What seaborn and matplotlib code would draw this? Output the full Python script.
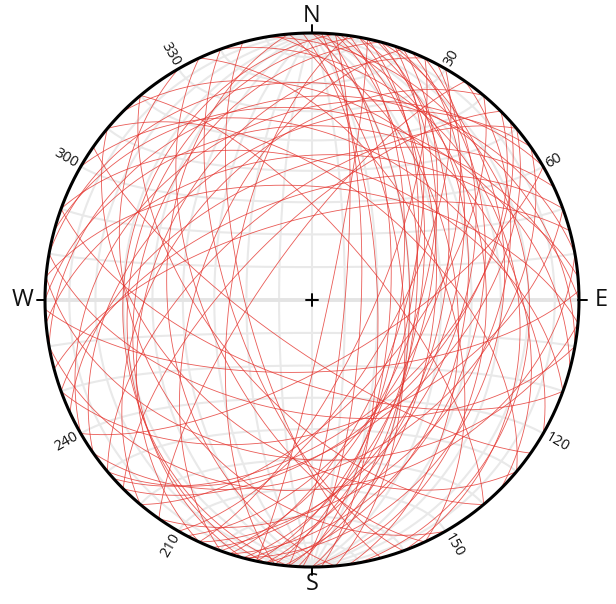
import numpy as np
import pandas as pd
import matplotlib
matplotlib.use("Agg")
import matplotlib.pyplot as plt
import seaborn as sns

# ---- data: planes as (strike RHR, dip) ----
strikes = [355, 0, 5, 8, 10, 12, 15, 18, 20, 3, 358, 2, 6, 14, 22, 25, 10, 352, 18, 28, 30, 25, 0, 15, 5, 12,
           185, 190, 195, 175, 200, 188, 205,
           45, 48, 50, 40, 55, 60, 35,
           300, 310, 320, 130, 140, 125, 315, 150, 155, 160,
           88, 270, 265, 275, 260, 95, 100, 80, 280, 255,
           340, 335, 165, 230, 220, 215, 70, 110, 350,
           235, 245, 240, 250, 285, 290, 225]
dips = [62, 60, 58, 63, 57, 60, 55, 62, 58, 66, 70, 75, 52, 50, 48, 45, 42, 45, 38, 55, 65, 72, 35, 30, 80, 85,
        30, 32, 35, 45, 55, 65, 40,
        50, 52, 48, 60, 40, 70, 35,
        40, 55, 70, 45, 60, 75, 30, 35, 58, 66,
        68, 35, 45, 55, 25, 40, 55, 30, 20, 65,
        25, 50, 70, 60, 45, 75, 50, 65, 20,
        40, 50, 32, 58, 30, 48, 68]
degree_labels = [30, 60, 120, 150, 210, 240, 300, 330]
cardinals = ["N", "E", "S", "W"]

W, H = 616, 604
CX, CY, R = 312, 300, 267

sns.set_style("white")
fig = plt.figure(figsize=(W / 100, H / 100), dpi=100)
ax = fig.add_axes([0, 0, 1, 1])


def project(N, E, D):
    D = np.clip(D, 0, 1)
    r = np.sqrt(1 - D)
    h = np.hypot(N, E)
    h = np.where(h == 0, 1, h)
    return r * E / h, r * N / h


def great_circle(strike, dip, n=361):
    s, d = np.radians(strike), np.radians(dip)
    sv = np.array([np.cos(s), np.sin(s), 0.0])
    dv = np.array([np.cos(s + np.pi / 2) * np.cos(d), np.sin(s + np.pi / 2) * np.cos(d), np.sin(d)])
    t = np.linspace(0, np.pi, n)
    v = np.outer(np.cos(t), sv) + np.outer(np.sin(t), dv)
    return project(v[:, 0], v[:, 1], v[:, 2])


def small_circle(alpha, n=361):
    a = np.radians(alpha)
    phi = np.linspace(0, np.pi, n)
    N = np.full_like(phi, np.cos(a))
    E = np.sin(a) * np.cos(phi)
    D = np.sin(a) * np.sin(phi)
    return project(N, E, D)


grid_col = "#e9e9e9"
for dip in range(10, 91, 10):
    for st in (0, 180):
        if dip == 90 and st == 180:
            continue
        x, y = great_circle(st, dip)
        ax.plot(x, y, color=grid_col, lw=1.5, zorder=1)
for a in range(10, 171, 10):
    x, y = small_circle(a)
    ax.plot(x, y, color=grid_col if a != 90 else "#e4e4e4", lw=1.5 if a != 90 else 2.8, zorder=1)

rows = []
for i, (s, d) in enumerate(zip(strikes, dips)):
    x, y = great_circle(s, d)
    rows.append(pd.DataFrame({"x": x, "y": y, "plane": i}))
df = pd.concat(rows, ignore_index=True)
sns.lineplot(data=df, x="x", y="y", units="plane", estimator=None, sort=False,
             color="#e4312b", lw=0.6, alpha=0.8, ax=ax, zorder=3, legend=False)
ax.set_xlim(-CX / R, (W - CX) / R)
ax.set_ylim(-(H - CY) / R, CY / R)
ax.set_aspect("equal")
ax.axis("off")

th = np.linspace(0, 2 * np.pi, 721)
ax.plot(np.cos(th), np.sin(th), color="black", lw=2.2, zorder=5)

# centre cross
c = 6 / R
ax.plot([-c, c], [0, 0], color="black", lw=1.4, zorder=6)
ax.plot([0, 0], [-c, c], color="black", lw=1.4, zorder=6)

# cardinal ticks and letters
tick = 8 / R
fam = ["Open Sans", "DejaVu Sans"]
for lab, az in zip(cardinals, [0, 90, 180, 270]):
    a = np.radians(az)
    sx, sy = np.sin(a), np.cos(a)
    ax.plot([sx, sx * (1 + tick)], [sy, sy * (1 + tick)], color="black", lw=1.4, zorder=6)
    rr = 1 + 17 / R if az in (0, 180) else 1 + 22 / R
    ax.text(sx * rr, sy * rr, lab, ha="center", va="center", fontsize=17, family=fam, color="#111111")

for az in degree_labels:
    a = np.radians(az)
    rr = 1.015
    if az < 180:
        rot, ha = 90 - az, "left"
    else:
        rot, ha = 270 - az, "right"
    ax.text(np.sin(a) * rr, np.cos(a) * rr, str(az), rotation=rot, rotation_mode="anchor",
            ha=ha, va="center", fontsize=10.5, family=fam, color="#111111")

fig.savefig("out.png", dpi=100, facecolor="white")
